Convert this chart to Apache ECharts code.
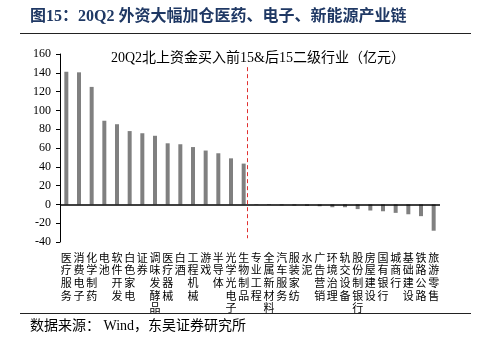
<!DOCTYPE html>
<html><head><meta charset="utf-8">
<script src="https://cdn.jsdelivr.net/npm/echarts@6/dist/echarts.min.js"></script>
<style>html,body{margin:0;padding:0;background:#fff}#c{width:491px;height:347px}</style>
</head><body><div id="c"></div>
<script>
var categories = ['医疗服务','消费电子','化学制药','电池','软件开发','白色家电','证券','调味发酵品','医疗器械','白酒','工程机械','游戏','半导体','光学光电子','生物制品',
  '专业工程','全属新材料','汽车服务','服装家纺','水泥','广告营销','环境治理','轨交设备','股份制银行','房屋建设','国有银行','城商行','基础建设','铁路公路','旅游零售'];
var values = [141,140.5,125,89,85.3,78,75.7,73,65,64,61,57.3,54.4,49,43.4,
  -0.5,-0.6,-1,-1.2,-1.5,-2,-3,-3,-5,-6.5,-7.3,-9,-10.5,-12.5,-28];
var yTicks = {min:-40, max:160, interval:20};
var dividerPos = 14.8;

var chart = echarts.init(document.getElementById('c'));
var serif = "'Liberation Serif','Noto Sans CJK SC',serif";
chart.setOption({
  animation:false,
  backgroundColor:'#fff',
  grid:{left:60,right:51,top:54,bottom:105},
  xAxis:[{
    type:'category', data:categories,
    axisLine:{show:false}, axisTick:{show:false},
    axisLabel:{interval:0, fontSize:11, lineHeight:12.7, color:'#000', margin:9,
      fontFamily:"'Noto Sans CJK SC',sans-serif", verticalAlign:'top',
      formatter:function(v){return v.split('').join('\n');}}
  },{
    type:'value', min:0, max:30, show:false
  }],
  yAxis:{
    type:'value', min:yTicks.min, max:yTicks.max, interval:yTicks.interval,
    axisLine:{show:true, lineStyle:{color:'#000',width:1}},
    axisTick:{show:true, length:4, lineStyle:{color:'#000'}},
    splitLine:{show:false},
    axisLabel:{fontSize:12, color:'#000', fontFamily:serif, margin:9}
  },
  series:[{
    type:'bar', data:values, barWidth:4, itemStyle:{color:'#808080'},
    markLine:{silent:true, symbol:'none', label:{show:false},
      lineStyle:{color:'#000', width:1.5, type:'solid'},
      data:[{yAxis:0}]}
  },{
    type:'line', xAxisIndex:1, data:[],
    markLine:{silent:true, symbol:'none', label:{show:false},
      lineStyle:{color:'#e03030', width:1, type:[4,3]},
      data:[[{coord:[dividerPos,146]},{coord:[dividerPos,-36]}]]}
  }],
  graphic:[
    {type:'text', left:30, top:9, style:{text:'图15：20Q2 外资大幅加仓医药、电子、新能源产业链', fontSize:16, fontWeight:'bold', fill:'#1f3864', fontFamily:serif}},
    {type:'line', shape:{x1:20,y1:33.5,x2:471,y2:33.5}, style:{stroke:'#222',lineWidth:1.2}},
    {type:'text', x:258, y:58, style:{text:'20Q2北上资金买入前15&后15二级行业（亿元）', fontSize:14, fill:'#000', fontFamily:serif, align:'center', verticalAlign:'middle'}},
    {type:'line', shape:{x1:20,y1:313.5,x2:471,y2:313.5}, style:{stroke:'#222',lineWidth:1.2}},
    {type:'text', left:30, top:319, style:{text:'数据来源： Wind，东吴证券研究所', fontSize:14, fill:'#000', fontFamily:serif}}
  ]
});
</script></body></html>
